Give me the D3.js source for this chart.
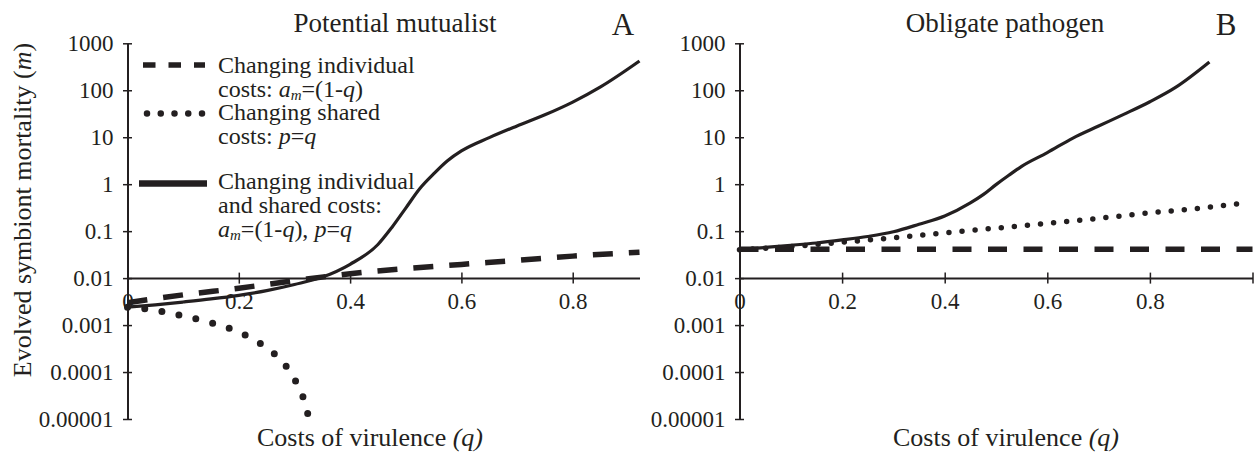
<!DOCTYPE html>
<html><head><meta charset="utf-8">
<script src="https://cdn.jsdelivr.net/npm/d3@7"></script>
<style>
body{margin:0;background:#fff;}
text{font-family:"Liberation Serif","Times New Roman",serif;fill:#231f20;}
</style></head>
<body><svg id="c" width="1254" height="455"></svg>
<script>
// ---------- data ----------
const yTicks = [1000,100,10,1,0.1,0.01,0.001,0.0001,0.00001];
const yTickLabels = ["1000","100","10","1","0.1","0.01","0.001","0.0001","0.00001"];
const xTicksA = [0,0.2,0.4,0.6,0.8];
const xTickLabelsA = ["0","0.2","0.4","0.6","0.8"];
const xTicksB = [0,0.2,0.4,0.6,0.8,1.0];
const xTickLabelsB = ["0","0.2","0.4","0.6","0.8",""];

// Panel A: potential mutualist
const qA_solid = [0,0.05,0.1,0.15,0.2,0.25,0.3,0.35,0.4,0.45,0.475,0.5,0.525,0.55,0.575,0.6,0.65,0.7,0.75,0.8,0.85,0.92];
const mA_solid = [0.0024,0.0027,0.0031,0.0036,0.0043,0.0054,0.0073,0.0105,0.0197,0.052,0.12,0.31,0.80,1.65,3.15,5.1,9.8,17.4,30,56,118,420];
const qA_dash = [0,0.1,0.2,0.3,0.4,0.5,0.6,0.7,0.8,0.92];
const mA_dash = [0.0030,0.0044,0.0061,0.0088,0.0124,0.0160,0.0196,0.0239,0.0294,0.0355];
const qA_dot = [0,0.05,0.1,0.15,0.2,0.25,0.28,0.3,0.31,0.32,0.324];
const mA_dot = [0.0024,0.00207,0.00156,0.00112,0.00071,0.000324,0.000158,0.0000708,0.0000417,0.00002,0.0000128];

// Panel B: obligate pathogen
const qB_solid = [0,0.05,0.1,0.15,0.2,0.25,0.3,0.35,0.4,0.45,0.475,0.5,0.525,0.55,0.6,0.65,0.7,0.75,0.8,0.85,0.916];
const mB_solid = [0.041,0.045,0.050,0.056,0.065,0.077,0.097,0.14,0.21,0.40,0.60,0.98,1.55,2.4,4.7,9.6,17.3,31,57,115,400];
const qB_dash = [0,1];
const mB_dash = [0.041,0.041];
const qB_dot = [0,0.1,0.2,0.3,0.4,0.5,0.6,0.7,0.8,0.9,0.97];
const mB_dot = [0.040,0.047,0.058,0.072,0.092,0.116,0.146,0.187,0.245,0.31,0.38];

// ---------- drawing ----------
const INK = "#231f20";
const svg = d3.select("#c");
const y = d3.scaleLog().domain([1e-5,1000]).range([419,43.3]);
const xA = d3.scaleLinear().domain([0,0.92]).range([127.5,639.5]);
const xB = d3.scaleLinear().domain([0,1]).range([739.5,1252.5]);

function zip(q,m){return q.map((v,i)=>({q:v,m:m[i]}));}

function panel(x, xt, xtl, series){
  const g = svg.append("g");
  const xa = g.append("g").attr("transform",`translate(0,${y(0.01)})`)
    .call(d3.axisBottom(x).tickValues(xt).tickSizeOuter(0)
      .tickFormat((d,i)=>xtl[i]));
  xa.attr("font-family",null);
  xa.select(".domain").attr("stroke",INK).attr("stroke-width",2);
  xa.selectAll(".tick line").attr("y1",-5.5).attr("y2",5.5).attr("stroke",INK).attr("stroke-width",1.5)
    .filter(d=>d===0).remove();
  xa.selectAll(".tick text").attr("y",31).attr("dy",0)
    .style("font-size","23px").attr("fill",INK);
  const ya = g.append("g").attr("transform",`translate(${x(0)},0)`)
    .call(d3.axisLeft(y).tickValues(yTicks).tickSizeOuter(0)
      .tickFormat((d,i)=>yTickLabels[i]));
  ya.attr("font-family",null);
  ya.select(".domain").attr("stroke",INK).attr("stroke-width",2);
  ya.selectAll(".tick line").attr("x1",-4.5).attr("x2",4.5).attr("stroke",INK).attr("stroke-width",1.5);
  ya.selectAll(".tick text").attr("x",-14).attr("dy","0.32em")
    .style("font-size","23px").attr("fill",INK);
  const line = d3.line().x(d=>x(d.q)).y(d=>y(d.m)).curve(d3.curveMonotoneX);
  series.forEach(s=>{
    const p = g.append("path").attr("d",line(s.data)).attr("fill","none")
      .attr("stroke",INK).attr("stroke-width",s.w)
      .attr("stroke-linecap",s.cap||"butt");
    if(s.dotGap){
      const L = p.node().getTotalLength();
      const n = Math.max(1,Math.round(L/s.dotGap));
      p.attr("stroke-dasharray",`0,${(L-0.6)/n}`);
    } else if(s.dash){
      p.attr("stroke-dasharray",s.dash);
    }
  });
  return g;
}

panel(xA, xTicksA, xTickLabelsA, [
  {data:zip(qA_dash,mA_dash), w:5.5, dash:"20,16"},
  {data:zip(qA_dot,mA_dot), w:7, dotGap:17.5, cap:"round"},
  {data:zip(qA_solid,mA_solid), w:3.2}
]);
panel(xB, xTicksB, xTickLabelsB, [
  {data:zip(qB_dash,mB_dash), w:5.5, dash:"19,16.5"},
  {data:zip(qB_dot,mB_dot), w:5.5, dotGap:13.3, cap:"round"},
  {data:zip(qB_solid,mB_solid), w:3.2}
]);

// titles
svg.append("text").attr("x",395).attr("y",32).attr("text-anchor","middle")
  .style("font-size","27px").text("Potential mutualist");
svg.append("text").attr("x",1005).attr("y",32).attr("text-anchor","middle")
  .style("font-size","27px").text("Obligate pathogen");
svg.append("text").attr("x",623).attr("y",35).attr("text-anchor","middle")
  .style("font-size","31px").text("A");
svg.append("text").attr("x",1226).attr("y",35).attr("text-anchor","middle")
  .style("font-size","31px").text("B");

// axis titles
function xTitle(cx){
  const t = svg.append("text").attr("x",cx).attr("y",446).attr("text-anchor","middle").style("font-size","26px");
  t.append("tspan").text("Costs of virulence ");
  t.append("tspan").style("font-style","italic").text("(q)");
}
xTitle(370); xTitle(1006);
const yt = svg.append("text").attr("transform","translate(31,210) rotate(-90)")
  .attr("text-anchor","middle").style("font-size","26px");
yt.append("tspan").text("Evolved symbiont mortality (");
yt.append("tspan").style("font-style","italic").text("m");
yt.append("tspan").text(")");

// legend
const leg = svg.append("g");
leg.append("line").attr("x1",143).attr("x2",205).attr("y1",65).attr("y2",65)
  .attr("stroke",INK).attr("stroke-width",5.5).attr("stroke-dasharray","12.5,13");
leg.append("line").attr("x1",147).attr("x2",202.1).attr("y1",113.5).attr("y2",113.5)
  .attr("stroke",INK).attr("stroke-width",6.5).attr("stroke-dasharray","0,13.75").attr("stroke-linecap","round");
leg.append("line").attr("x1",139).attr("x2",207).attr("y1",183.5).attr("y2",183.5)
  .attr("stroke",INK).attr("stroke-width",6.5);

const legLines = [
  [73, [["Changing individual",0]]],
  [96.5, [["costs: ",0],["a",1],["m",2],["=(1-",0],["q",1],[")",0]]],
  [120, [["Changing shared",0]]],
  [143.5, [["costs: ",0],["p",1],["=",0],["q",1]]],
  [189, [["Changing individual",0]]],
  [213, [["and shared costs:",0]]],
  [237, [["a",1],["m",2],["=(1-",0],["q",1],["), ",0],["p",1],["=",0],["q",1]]]
];
legLines.forEach(([yy,parts])=>{
  const t = leg.append("text").attr("x",218).attr("y",yy).style("font-size","24px");
  let sub=false;
  parts.forEach(([s,k])=>{
    const ts = t.append("tspan").text(s);
    if(k===1) ts.style("font-style","italic");
    if(k===2){ ts.style("font-style","italic").style("font-size","15px").attr("dy",3); sub=true; }
    else if(sub){ ts.attr("dy",-3); sub=false; }
  });
});
</script></body></html>
